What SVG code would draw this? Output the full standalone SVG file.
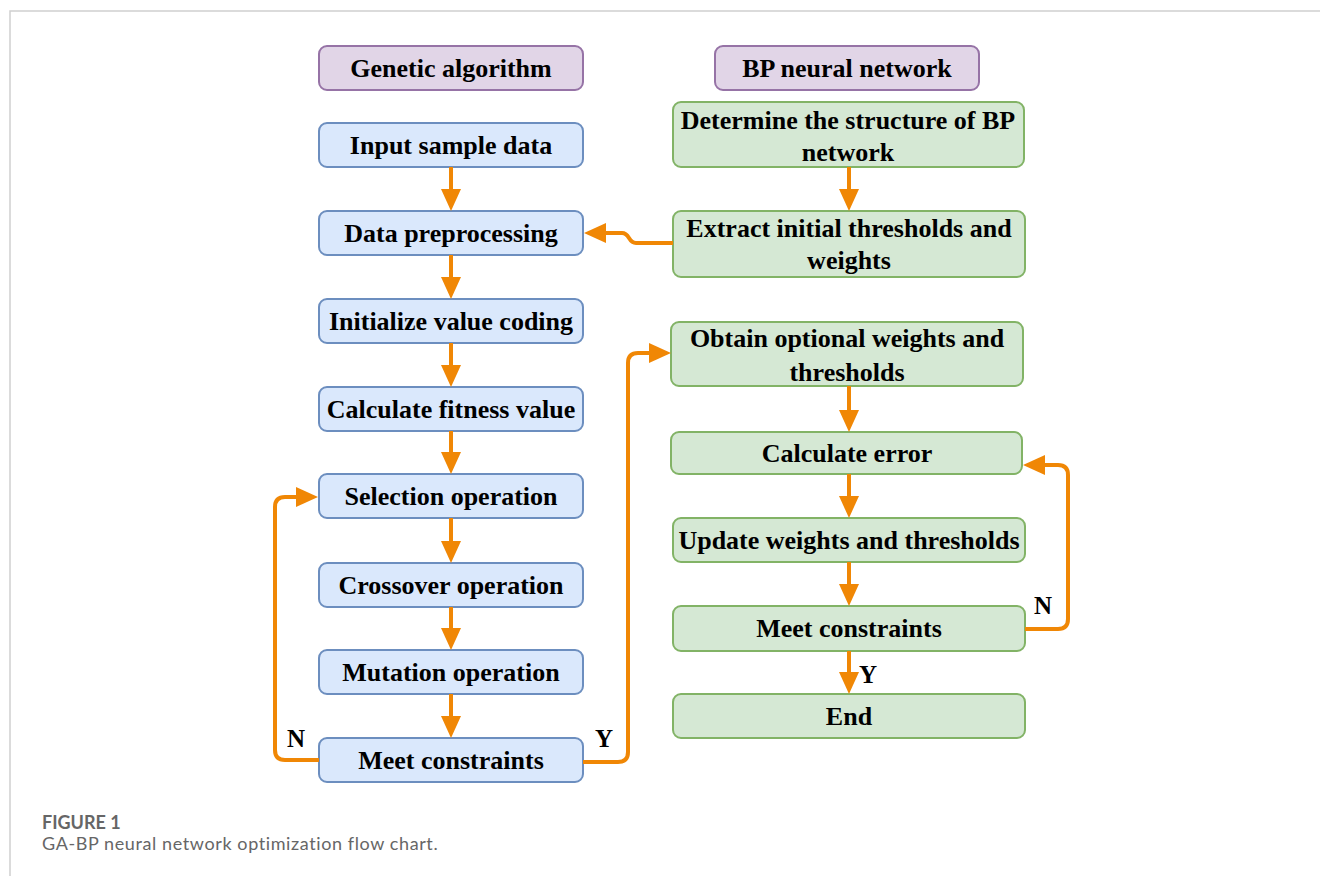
<svg xmlns="http://www.w3.org/2000/svg" width="1320" height="876" viewBox="0 0 1320 876">
<style>
.t{font-family:"Liberation Serif","Times New Roman",serif;font-weight:bold;font-size:26px;fill:#000;text-anchor:middle}
.lb{font-family:"Liberation Serif","Times New Roman",serif;font-weight:bold;font-size:25px;fill:#000;text-anchor:middle}
.p{fill:#e1d5e7;stroke:#9673a6;stroke-width:2}
.b{fill:#dae8fc;stroke:#6c8ebf;stroke-width:2}
.g{fill:#d5e8d4;stroke:#82b366;stroke-width:2}
.c{fill:none;stroke:#f08705;stroke-width:4;marker-end:url(#ah)}
.cap{font-family:Lato,"Open Sans",sans-serif;font-size:18px;fill:#666}
</style>
<defs>
<marker id="ah" viewBox="0 0 22 20" refX="11" refY="10" markerWidth="22" markerHeight="20" markerUnits="userSpaceOnUse" orient="auto">
<path d="M0,0 L22,10 L0,20 z" fill="#f08705"/>
</marker>
</defs>
<rect width="1320" height="876" fill="#fff"/>
<path d="M10,876 L10,11 L1320,11" fill="none" stroke="#d0d0d0" stroke-width="1.5"/>

<g id="ga"><rect class="p" x="319" y="46" width="264" height="44" rx="8"/><text class="t" x="451" y="77">Genetic algorithm</text></g>
<g id="input"><rect class="b" x="319" y="123" width="264" height="44" rx="8"/><text class="t" x="451" y="154">Input sample data</text></g>
<g id="prep"><rect class="b" x="319" y="211" width="264" height="44" rx="8"/><text class="t" x="451" y="242">Data preprocessing</text></g>
<g id="init"><rect class="b" x="319" y="299" width="264" height="44" rx="8"/><text class="t" x="451" y="330">Initialize value coding</text></g>
<g id="fit"><rect class="b" x="319" y="387" width="264" height="44" rx="8"/><text class="t" x="451" y="418">Calculate fitness value</text></g>
<g id="sel"><rect class="b" x="319" y="474" width="264" height="44" rx="8"/><text class="t" x="451" y="505">Selection operation</text></g>
<g id="cross"><rect class="b" x="319" y="563" width="264" height="44" rx="8"/><text class="t" x="451" y="594">Crossover operation</text></g>
<g id="mut"><rect class="b" x="319" y="650" width="264" height="44" rx="8"/><text class="t" x="451" y="681">Mutation operation</text></g>
<g id="meet1"><rect class="b" x="319" y="738" width="264" height="44" rx="8"/><text class="t" x="451" y="769">Meet constraints</text></g>

<g id="bp"><rect class="p" x="715" y="46" width="264" height="44" rx="8"/><text class="t" x="847" y="77">BP neural network</text></g>
<g id="det"><rect class="g" x="673" y="102" width="351" height="65" rx="8"/><text class="t" x="848" y="129">Determine the structure of BP</text><text class="t" x="848" y="161">network</text></g>
<g id="ext"><rect class="g" x="673" y="211" width="352" height="66" rx="8"/><text class="t" x="849" y="237">Extract initial thresholds and</text><text class="t" x="849" y="269">weights</text></g>
<g id="obt"><rect class="g" x="671" y="322" width="352" height="64" rx="8"/><text class="t" x="847" y="347">Obtain optional weights and</text><text class="t" x="847" y="381">thresholds</text></g>
<g id="err"><rect class="g" x="671" y="432" width="351" height="42" rx="8"/><text class="t" x="847" y="462">Calculate error</text></g>
<g id="upd"><rect class="g" x="673" y="518" width="352" height="44" rx="8"/><text class="t" x="849" y="549">Update weights and thresholds</text></g>
<g id="meet2"><rect class="g" x="673" y="606" width="352" height="45" rx="8"/><text class="t" x="849" y="637">Meet constraints</text></g>
<g id="end"><rect class="g" x="673" y="694" width="352" height="44" rx="8"/><text class="t" x="849" y="725">End</text></g>

<g id="connectors">
<path class="c" d="M451,167 L451,200"/>
<path class="c" d="M451,255 L451,288"/>
<path class="c" d="M451,343 L451,376"/>
<path class="c" d="M451,431 L451,463"/>
<path class="c" d="M451,518 L451,552"/>
<path class="c" d="M451,607 L451,639"/>
<path class="c" d="M451,694 L451,727"/>
<path class="c" d="M849,167 L849,200"/>
<path class="c" d="M849,386 L849,421"/>
<path class="c" d="M849,474 L849,507"/>
<path class="c" d="M849,562 L849,595"/>
<path class="c" d="M849,651 L849,683"/>
<path class="c" d="M673,243 L636,243 C628,243 630,233 622,233 L595,233"/>
<path class="c" d="M319,760 L285,760 Q275,760 275,750 L275,507 Q275,497 285,497 L307,497"/>
<path class="c" d="M583,762 L618,762 Q628,762 628,752 L628,363 Q628,353 638,353 L660,353"/>
<path class="c" d="M1025,629 L1058,629 Q1068,629 1068,619 L1068,475 Q1068,465 1058,465 L1034,465"/>
<text class="lb" x="296" y="747">N</text>
<text class="lb" x="604" y="747">Y</text>
<text class="lb" x="1043" y="614">N</text>
<text class="lb" x="868" y="683">Y</text>
</g>

<text class="cap" x="42" y="829" font-weight="bold">FIGURE 1</text>
<text class="cap" x="42" y="850" letter-spacing="0.6">GA-BP neural network optimization flow chart.</text>
</svg>
